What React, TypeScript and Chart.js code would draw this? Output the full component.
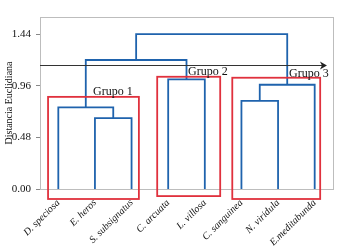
import React, { useEffect, useRef } from "react";
import { Chart, registerables } from "chart.js";

Chart.register(...registerables);

// Leaves of the dendrogram (left to right)
const leaves = [
  "D. speciosa",
  "E. heros",
  "S. subsignatus",
  "C. arcuata",
  "L. villosa",
  "C. sanguinea",
  "N. viridula",
  "E.meditabunda",
];

// Linkage: node ids 0..7 are leaves, merges create ids 8,9,...
const mergeLeft = [1, 0, 3, 5, 11, 9, 13];
const mergeRight = [2, 8, 4, 6, 7, 10, 12];
const mergeHeight = [0.66, 0.76, 1.02, 0.82, 0.97, 1.2, 1.44];

const yTicks = [0, 0.48, 0.96, 1.44];
const cutHeight = 1.15;

// Group boxes (data units)
const groupNames = ["Grupo 1", "Grupo 2", "Grupo 3"];
const groupX0 = [-0.28, 2.7, 4.75];
const groupX1 = [2.2, 4.42, 7.15];
const groupTop = [0.857, 1.044, 1.035];
const groupBottom = [-0.093, -0.066, -0.093];
const groupLabelX = [0.95, 3.54, 6.3];
const groupLabelY = [0.875, 1.065, 1.045];

const BLUE = "#1f63ad";
const RED = "#e0313d";
const SERIF = "'Liberation Serif', 'Times New Roman', serif";

function buildLinks() {
  const nodeX: number[] = leaves.map((_, i) => i);
  const nodeH: number[] = leaves.map(() => 0);
  const links: { x: number; y: number }[][] = [];
  mergeHeight.forEach((h, k) => {
    const a = mergeLeft[k];
    const b = mergeRight[k];
    links.push([
      { x: nodeX[a], y: nodeH[a] },
      { x: nodeX[a], y: h },
      { x: nodeX[b], y: h },
      { x: nodeX[b], y: nodeH[b] },
    ]);
    nodeX.push((nodeX[a] + nodeX[b]) / 2);
    nodeH.push(h);
  });
  return links;
}

export default function App() {
  const ref = useRef<HTMLCanvasElement | null>(null);

  useEffect(() => {
    document.body.style.margin = "0";
    const canvas = ref.current;
    if (!canvas) return;
    const links = buildLinks();

    const overlay = {
      id: "overlay",
      beforeDatasetsDraw(chart: any) {
        const { ctx, chartArea } = chart;
        ctx.save();
        ctx.strokeStyle = "#bdbdbd";
        ctx.lineWidth = 1;
        ctx.strokeRect(
          Math.round(chartArea.left) + 0.5,
          Math.round(chartArea.top) + 0.5,
          Math.round(chartArea.right - chartArea.left),
          Math.round(chartArea.bottom - chartArea.top)
        );
        ctx.restore();
      },
      afterDatasetsDraw(chart: any) {
        const { ctx, chartArea } = chart;
        const xs = chart.scales.x;
        const ys = chart.scales.y;
        ctx.save();
        // cut line with arrow
        const cy = Math.round(ys.getPixelForValue(cutHeight)) + 0.5;
        const x0 = chartArea.left;
        const x1 = xs.getPixelForValue(7.28);
        ctx.strokeStyle = "#333333";
        ctx.lineWidth = 1;
        ctx.beginPath();
        ctx.moveTo(x0, cy);
        ctx.lineTo(x1 - 2, cy);
        ctx.stroke();
        ctx.fillStyle = "#222222";
        ctx.beginPath();
        ctx.moveTo(x1 + 2, cy);
        ctx.lineTo(x1 - 5, cy - 4);
        ctx.lineTo(x1 - 3, cy);
        ctx.lineTo(x1 - 5, cy + 4);
        ctx.closePath();
        ctx.fill();
        // group boxes
        ctx.strokeStyle = RED;
        ctx.lineWidth = 1.8;
        groupNames.forEach((_, i) => {
          const l = xs.getPixelForValue(groupX0[i]);
          const r = xs.getPixelForValue(groupX1[i]);
          const t = ys.getPixelForValue(groupTop[i]);
          const b = ys.getPixelForValue(groupBottom[i]);
          ctx.strokeRect(l, t, r - l, b - t);
        });
        // group labels
        ctx.fillStyle = "#111111";
        ctx.font = "12px " + SERIF;
        ctx.textAlign = "left";
        ctx.textBaseline = "alphabetic";
        groupNames.forEach((name, i) => {
          ctx.fillText(
            name,
            xs.getPixelForValue(groupLabelX[i]),
            ys.getPixelForValue(groupLabelY[i])
          );
        });
        ctx.restore();
      },
    };

    const chart = new Chart(canvas, {
      type: "line",
      data: {
        datasets: links.map((pts) => ({
          data: pts,
          borderColor: BLUE,
          borderWidth: 1.8,
          pointRadius: 0,
          fill: false,
          tension: 0,
        })),
      },
      options: {
        animation: false,
        responsive: false,
        maintainAspectRatio: false,
        layout: { padding: { top: 17, right: 7, left: 0, bottom: 0 } },
        plugins: {
          legend: { display: false },
          tooltip: { enabled: false },
        },
        scales: {
          x: {
            type: "linear",
            min: -0.5,
            max: 7.5,
            afterBuildTicks: (scale: any) => {
              scale.ticks = leaves.map((_, i) => ({ value: i }));
            },
            afterFit: (scale: any) => {
              scale.height = 62;
            },
            grid: { display: false, drawTicks: false },
            border: { display: false },
            ticks: {
              autoSkip: false,
              minRotation: 45,
              maxRotation: 45,
              padding: 8,
              color: "#111111",
              font: { family: SERIF, size: 10, style: "italic" },
              callback: (v: any) => leaves[v as number] ?? "",
            },
          },
          y: {
            type: "linear",
            min: 0,
            max: 1.6,
            afterBuildTicks: (scale: any) => {
              scale.ticks = yTicks.map((v) => ({ value: v }));
            },
            afterFit: (scale: any) => {
              scale.width = 40;
            },
            grid: {
              display: true,
              drawOnChartArea: false,
              tickLength: 4,
              color: "#888888",
            },
            border: { display: false },
            ticks: {
              padding: 5,
              color: "#111111",
              font: { family: SERIF, size: 11 },
              callback: (v: any) => Number(v).toFixed(2),
            },
            title: {
              display: true,
              text: "Distancia Euclidiana",
              color: "#111111",
              padding: { top: 3, bottom: 0 },
              font: { family: SERIF, size: 10 },
            },
          },
        },
      },
      plugins: [overlay],
    } as any);

    return () => chart.destroy();
  }, []);

  return (
    <div style={{ width: 340, height: 251 }}>
      <canvas ref={ref} width={340} height={251} style={{ display: "block" }} />
    </div>
  );
}
